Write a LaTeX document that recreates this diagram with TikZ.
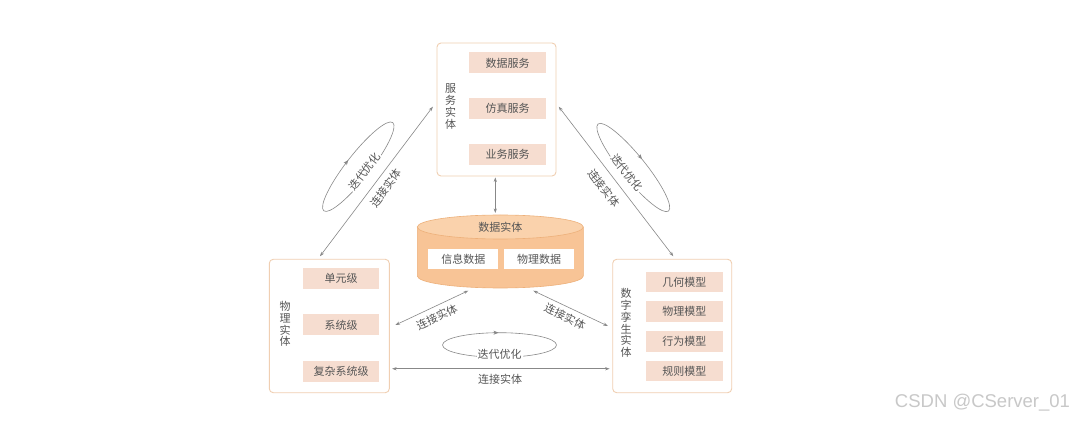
\documentclass[tikz,border=0pt]{standalone}
\usepackage{fontspec}
\setmainfont{Noto Sans CJK SC}
\newfontfamily\wmfont{Liberation Sans}
\usetikzlibrary{arrows.meta,calc,shapes.geometric}
\definecolor{txt}{HTML}{555555}
\definecolor{itemfill}{HTML}{F6DDD0}
\definecolor{outerline}{HTML}{F0CFB2}
\definecolor{cylbody}{HTML}{F8C496}
\definecolor{cyltop}{HTML}{FAD2AC}
\definecolor{cylline}{HTML}{EDB07A}
\definecolor{arr}{HTML}{888888}
\definecolor{wm}{HTML}{C8C8C8}
\tikzset{
  outerbox/.style={draw=outerline, line width=0.9pt, rounded corners=4pt, fill=white, inner sep=0pt},
  itembox/.style={fill=itemfill, text=txt, inner sep=0pt, minimum width=76.7pt, minimum height=21pt, font=\fontsize{11}{12}\selectfont},
  databox/.style={fill=white, text=txt, inner sep=0pt, minimum width=70pt, minimum height=20pt, font=\fontsize{11}{12}\selectfont},
  vlabel/.style={text=txt, align=center, inner sep=0pt, font=\fontsize{11}{11.8}\selectfont},
  conn/.style={draw=arr, line width=0.6pt, {Stealth[length=4.5pt,width=3.2pt]}-{Stealth[length=4.5pt,width=3.2pt]}},
  clabel/.style={text=txt, inner sep=1pt, font=\fontsize{11}{12}\selectfont},
  looplabel/.style={text=txt, fill=white, inner sep=1pt, font=\fontsize{11}{12}\selectfont, transform shape},
  loopline/.style={draw=arr, line width=0.6pt},
  looptip/.style={draw=arr, fill=arr, line width=0.6pt, -{Stealth[length=5pt,width=4pt]}},
}
\begin{document}
\begin{tikzpicture}[x=1pt,y=-1pt]
\useasboundingbox[fill=white] (0,0) rectangle (1080,422);

% service entity
\node[outerbox, minimum width=119pt, minimum height=133pt] (svc) at (496.5,109.5) {};
\node[vlabel] (svclab) at (450.7,106.5) {服\\务\\实\\体};
\node[itembox] (s1) at (507.7,63) {数据服务};
\node[itembox] (s2) at (507.7,108.8) {仿真服务};
\node[itembox] (s3) at (507.7,154.7) {业务服务};

% physical entity
\node[outerbox, minimum width=120pt, minimum height=133.4pt] (phys) at (329.3,326) {};
\node[vlabel] (physlab) at (285,324) {物\\理\\实\\体};
\node[itembox] (p1) at (341,278.8) {单元级};
\node[itembox] (p2) at (341,325) {系统级};
\node[itembox] (p3) at (341,371.7) {复杂系统级};

% digital twin entity
\node[outerbox, minimum width=119pt, minimum height=133.4pt] (twin) at (672.2,326) {};
\node[vlabel] (twinlab) at (626,323) {数\\字\\孪\\生\\实\\体};
\node[itembox, minimum height=20.5pt] (t1) at (684.3,282.2) {几何模型};
\node[itembox, minimum height=20.5pt] (t2) at (684.3,311.7) {物理模型};
\node[itembox, minimum height=20.5pt] (t3) at (684.3,341.3) {行为模型};
\node[itembox, minimum height=20.5pt] (t4) at (684.3,371.2) {规则模型};

% data entity (cylinder)
\node[minimum width=166pt, minimum height=75pt, inner sep=0pt] (data) at (500.3,251.5) {};
\path[fill=cylbody, draw=cylline, line width=0.6pt] (417.3,227) -- (417.3,276)
  arc[start angle=180, end angle=0, x radius=83, y radius=12] -- (583.3,227);
\draw[fill=cyltop, draw=cylline, line width=0.6pt] (500.3,227) ellipse [x radius=83, y radius=12];
\node[clabel] (datalab) at (500.3,227.5) {数据实体};
\node[databox] (d1) at (463.3,259.3) {信息数据};
\node[databox] (d2) at (539,259.3) {物理数据};

% connectors
\draw[conn] ($(svc.south)+(-1.2,1)$) -- ($(data.north)+(-5,-0.8)$);
\draw[conn] ($(svc.west)+(-3.7,-2.8)$) -- ($(phys.north)+(-9.3,-2.6)$);
\draw[conn] ($(svc.east)+(2.3,-2.8)$) -- ($(twin.north)+(1.1,-2.6)$);
\draw[conn] ($(phys.east)+(5.7,-1)$) -- ($(data.south)+(-32,1.5)$);
\draw[conn] ($(data.south)+(33,1.5)$) -- ($(twin.west)+(-4.4,0)$);
\draw[conn] ($(phys.south east)+(2.4,-24.4)$) -- ($(twin.south west)+(-2.7,-24.4)$);

% connector labels
\node[clabel, rotate=52.9] (c1) at (386,188) {连接实体};
\node[clabel, rotate=-52.5] (c2) at (604,188) {连接实体};
\node[clabel, rotate=25.6] (c3) at (437,317) {连接实体};
\node[clabel, rotate=-25.6] (c4) at (565,316.7) {连接实体};
\node[clabel] (c5) at (500,379.5) {连接实体};

% iteration loops
\begin{scope}[shift={(358.3,166.7)}, rotate=52]
  \draw[loopline] (0,0) ellipse [x radius=56, y radius=12];
  \draw[looptip] (-6,-12) -- (-1,-12);
  \node[looplabel] (l1) at (0,8) {迭代优化};
\end{scope}
\begin{scope}[shift={(633.3,167.5)}, rotate=-51]
  \draw[loopline] (0,0) ellipse [x radius=56, y radius=12];
  \draw[looptip] (-6,-12) -- (-1,-12);
  \node[looplabel] (l2) at (0,8) {迭代优化};
\end{scope}
\begin{scope}[shift={(499.5,345)}]
  \draw[loopline] (0,0) ellipse [x radius=57, y radius=12.3];
  \draw[looptip] (-6,-12.3) -- (-1,-12.3);
  \node[looplabel] (l3) at (0,9) {迭代优化};
\end{scope}

% watermark
\node[text=wm, font=\wmfont\fontsize{18.5}{20}\selectfont, inner sep=0pt] (wmk) at (982.5,403) {CSDN @CServer\_01};
\end{tikzpicture}
\end{document}
